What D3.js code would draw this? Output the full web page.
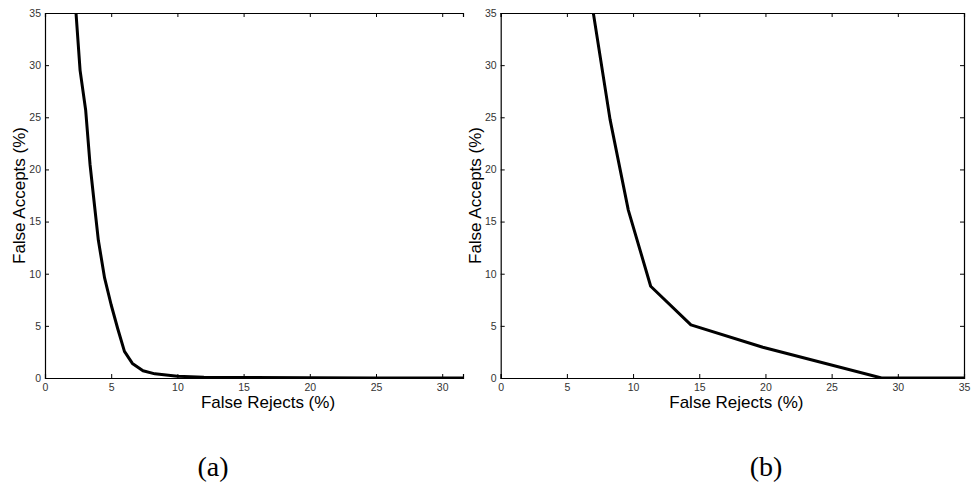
<!DOCTYPE html>
<html>
<head>
<meta charset="utf-8">
<script src="https://cdn.jsdelivr.net/npm/d3@7"></script>
<style>
  html, body { margin: 0; padding: 0; background: #fff; }
  svg { display: block; }
</style>
</head>
<body>
<svg id="chart" width="971" height="483"></svg>
<script>
// ---- data ----
const leftFR = [2.23, 2.65, 3.07, 3.4, 3.7, 4.03, 4.5, 5.0, 5.5, 6.0, 6.6, 7.4, 8.3, 10, 12, 15, 20, 25, 31.6];
const leftFA = [37, 29.5, 25.7, 20.5, 17.0, 13.2, 9.6, 7.0, 4.7, 2.55, 1.4, 0.7, 0.4, 0.17, 0.08, 0.04, 0.02, 0.01, 0];
const rightFR = [6.75, 8.26, 9.64, 11.33, 14.37, 19.8, 28.77, 35];
const rightFA = [37, 24.8, 16.1, 8.8, 5.1, 2.95, 0, 0];
const leftXTicks = [0, 5, 10, 15, 20, 25, 30];
const rightXTicks = [0, 5, 10, 15, 20, 25, 30, 35];
const yTicks = [0, 5, 10, 15, 20, 25, 30, 35];
const xLabel = "False Rejects (%)";
const yLabel = "False Accepts (%)";
const panelLabels = ["(a)", "(b)"];

const svg = d3.select("#chart");

function panel(cfg) {
  const { left, right, top, bottom, xMax, fr, fa, xTicks, box, id } = cfg;
  const x = d3.scaleLinear().domain([0, xMax]).range([left, right]);
  const y = d3.scaleLinear().domain([0, 35]).range([bottom, top]);
  const g = svg.append("g");

  g.append("clipPath").attr("id", id).append("rect")
    .attr("x", left).attr("y", top).attr("width", right - left).attr("height", bottom - top);

  const data = fr.map((v, i) => [v, fa[i]]);
  g.append("path").datum(data)
    .attr("clip-path", `url(#${id})`)
    .attr("fill", "none").attr("stroke", "#000").attr("stroke-width", 3)
    .attr("stroke-linejoin", "round")
    .attr("d", d3.line().x(d => x(d[0])).y(d => y(d[1])));

  const tl = 4;
  // bottom axis (ticks inward)
  const xb = d3.axisBottom(x).tickValues(xTicks).tickSize(-tl).tickPadding(6).tickFormat(d3.format("d"));
  const gx = g.append("g").attr("transform", `translate(0,${bottom})`).call(xb);
  // left axis
  const yl = d3.axisLeft(y).tickValues(yTicks).tickSize(-tl).tickPadding(4).tickFormat(d3.format("d"));
  const gy = g.append("g").attr("transform", `translate(${left},0)`).call(yl);
  // top axis, no labels
  const xt = d3.axisTop(x).tickValues(xTicks).tickSize(-tl).tickFormat("");
  const gt = g.append("g").attr("transform", `translate(0,${top})`).call(xt);
  const axes = [gx, gy, gt];
  if (box) {
    const yr = d3.axisRight(y).tickValues(yTicks).tickSize(-tl).tickFormat("");
    axes.push(g.append("g").attr("transform", `translate(${right},0)`).call(yr));
  }
  axes.forEach(a => {
    a.select(".domain").attr("stroke", "#000").attr("stroke-width", 1.2);
    a.selectAll(".tick line").attr("stroke", "#000").attr("stroke-width", 1);
    a.selectAll(".tick text").attr("fill", "#333").style("font-family", "Liberation Sans, Arial, sans-serif").style("font-size", "10.5px");
  });

  g.append("text").attr("x", (left + right) / 2 + cfg.xlOff).attr("y", 408)
    .attr("text-anchor", "middle").style("font-family", "Liberation Sans, Arial, sans-serif")
    .style("font-size", "17px").attr("fill", "#000").text(xLabel);
  g.append("text").attr("transform", `translate(${cfg.ylX},${(top + bottom) / 2}) rotate(-90)`)
    .attr("text-anchor", "middle").style("font-family", "Liberation Sans, Arial, sans-serif")
    .style("font-size", "17px").attr("fill", "#000").text(yLabel);
  g.append("text").attr("x", cfg.plX).attr("y", 476)
    .attr("text-anchor", "middle").style("font-family", "Liberation Serif, serif")
    .style("font-size", "28px").attr("fill", "#000").text(cfg.pl);
}

panel({ id: "cpA", left: 45, right: 463, top: 13, bottom: 378, xMax: 31.57, fr: leftFR, fa: leftFA,
        xTicks: leftXTicks, box: false, xlOff: 14, ylX: 25, plX: 213, pl: panelLabels[0] });
panel({ id: "cpB", left: 500.7, right: 964, top: 13, bottom: 378, xMax: 35, fr: rightFR, fa: rightFA,
        xTicks: rightXTicks, box: true, xlOff: 4, ylX: 481, plX: 766, pl: panelLabels[1] });
</script>
</body>
</html>
